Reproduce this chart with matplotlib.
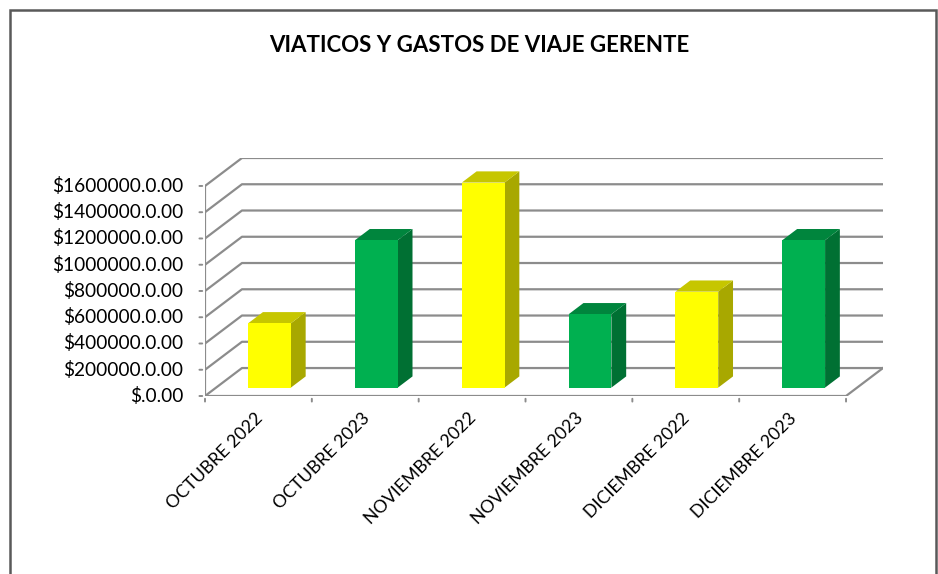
import matplotlib
matplotlib.use('Agg')
import matplotlib.pyplot as plt
from matplotlib.patches import Polygon, Rectangle

categories = ['OCTUBRE 2022', 'OCTUBRE 2023', 'NOVIEMBRE 2022',
              'NOVIEMBRE 2023', 'DICIEMBRE 2022', 'DICIEMBRE 2023']
values = [490000, 1123000, 1562000, 559000, 731000, 1123000]
yticks = [0, 200000, 400000, 600000, 800000, 1000000, 1200000, 1400000, 1600000]

plt.rcParams['font.family'] = ['Lato', 'DejaVu Sans']

# colours per bar: front, top, side
yellow = ('#FFFF00', '#C6C600', '#A8A800')
green = ('#00B050', '#00853D', '#007033')
colors = [yellow, green, yellow, green, yellow, green]

# fake 3D: depth shear in data units
DX = 0.346
DY = 213000
grid_col = '#8C8C8C'

fig = plt.figure(figsize=(9.38, 5.74), dpi=100)
W, H = 938, 574
ax = fig.add_axes([205 / W, (H - 396) / H, (883 - 205) / W, (396 - 158) / H])
ax.set_xlim(0, 6 + DX)
ax.set_ylim(0, 1600000 + DY)
for s in ax.spines.values():
    s.set_visible(False)
ax.set_xticks([])
ax.set_yticks([])

# gridlines on side and back walls
for v in yticks:
    ax.plot([0, DX, 6 + DX], [v, v + DY, v + DY], color=grid_col, lw=1.6, zorder=1,
            solid_capstyle='butt')
# floor
ax.plot([0, 6, 6 + DX], [0, 0, DY], color=grid_col, lw=1.6, zorder=1)
# front y axis
ax.plot([0, 0], [0, 1600000], color=grid_col, lw=1.6, zorder=1)
for v in yticks:
    ax.annotate('', xy=(0, v), xytext=(-6, 0), textcoords='offset points',
                arrowprops=dict(arrowstyle='-', color=grid_col, lw=1.4))
    lab = '$.0.00' if v == 0 else '$%d.0.00' % v
    ax.annotate(lab, xy=(0, v), xytext=(-15.5, 0), textcoords='offset points',
                ha='right', va='center', fontsize=13.8, color='black')
for i in range(7):
    ax.annotate('', xy=(i, 0), xytext=(0, -6), textcoords='offset points',
                arrowprops=dict(arrowstyle='-', color=grid_col, lw=1.4))

# bars
bw = 0.4
d0, d1 = 0.3, 0.7
for i, (v, c) in enumerate(zip(values, colors)):
    x0 = i + 0.5 - bw / 2 + d0 * DX
    y0 = d0 * DY
    x1 = x0 + bw
    ddx = (d1 - d0) * DX
    ddy = (d1 - d0) * DY
    front = Polygon([(x0, y0), (x1, y0), (x1, y0 + v), (x0, y0 + v)],
                    closed=True, facecolor=c[0], edgecolor='none', zorder=3)
    top = Polygon([(x0, y0 + v), (x1, y0 + v), (x1 + ddx, y0 + v + ddy), (x0 + ddx, y0 + v + ddy)],
                  closed=True, facecolor=c[1], edgecolor='none', zorder=3)
    side = Polygon([(x1, y0), (x1 + ddx, y0 + ddy), (x1 + ddx, y0 + v + ddy), (x1, y0 + v)],
                   closed=True, facecolor=c[2], edgecolor='none', zorder=3)
    for p in (side, top, front):
        ax.add_patch(p)

# category labels
for i, name in enumerate(categories):
    ax.annotate(name, xy=(i + 0.5, 0), xytext=(-3, -10), textcoords='offset points',
                rotation=45, ha='right', va='top', rotation_mode='anchor',
                fontsize=12.8, color='black')

fig.text(479 / W, 1 - 45 / H, 'VIATICOS Y GASTOS DE VIAJE GERENTE',
         ha='center', va='center', fontsize=16, fontweight='bold')

# chart border
fig.patches.append(Rectangle((10 / W, -0.05), (936 - 10) / W, 1.05 - 10 / H,
                             transform=fig.transFigure, fill=False,
                             edgecolor='#595959', lw=1.8))

fig.savefig('out.png', dpi=100)
